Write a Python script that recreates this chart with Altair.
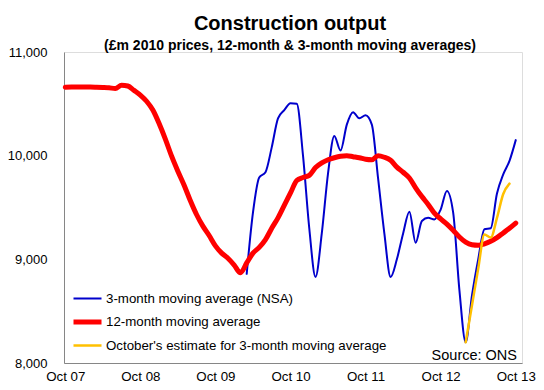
import json
import altair as alt
import pandas as pd

FONT = "Liberation Sans"

title_text = "Construction output"
subtitle_text = "(£m 2010 prices, 12-month & 3-month moving averages)"
source_text = "Source: ONS"

tick_months = [0, 12, 24, 36, 48, 60, 72]
tick_labels = ["Oct 07", "Oct 08", "Oct 09", "Oct 10", "Oct 11", "Oct 12", "Oct 13"]
y_ticks = [8000, 9000, 10000, 11000]

series_names = [
    "3-month moving average (NSA)",
    "12-month moving average",
    "October's estimate for 3-month moving average",
]
series_colors = ["#0000CC", "#FF0000", "#FFC000"]
series_widths = [2, 5, 2.5]

# 12-month moving average, monthly from Oct 07 (month 0)
ma12_start = 0
ma12 = [
    10660, 10662, 10663, 10663, 10662, 10660, 10658, 10655, 10648, 10680,
    10672, 10630, 10585, 10525, 10440, 10310, 10160, 9995, 9850, 9715,
    9565, 9430, 9320, 9230, 9130, 9060, 9010, 8945, 8870, 8965,
    9060, 9115, 9190, 9300, 9400, 9520, 9640, 9760, 9790, 9810,
    9885, 9930, 9960, 9980, 9995, 10000, 9990, 9980, 9965, 9960,
    10000, 9985, 9955, 9890, 9840, 9785, 9690, 9605, 9530, 9445,
    9390, 9340, 9280, 9215, 9165, 9140, 9135, 9150, 9175, 9210,
    9255, 9300, 9350,
]

# 3-month moving average (NSA), monthly from Mar 10 (month 29)
ma3_start = 29
ma3 = [
    8860, 9450, 9790, 9840, 10080, 10360, 10440, 10505, 10500, 10000,
    9300, 8830, 9250, 9830, 10190, 10050, 10300, 10420, 10360, 10390,
    10300, 9780, 9250, 8830, 9000, 9250, 9460, 9160, 9370, 9400,
    9385, 9480, 9660, 9450, 8700, 8200, 8650, 9000, 9290, 9300,
    9635, 9820, 9950, 10150,
]

# October's estimate for the 3-month moving average, from Feb 13 (month 64)
est_start = 64
est = [8200, 8555, 8910, 9240, 9210, 9400, 9630, 9730]

rows = []
for start, vals, name in [
    (ma3_start, ma3, series_names[0]),
    (ma12_start, ma12, series_names[1]),
    (est_start, est, series_names[2]),
]:
    for i, v in enumerate(vals):
        rows.append({"month": start + i, "value": v, "series": name})
df = pd.DataFrame(rows)

label_expr = json.dumps(tick_labels) + "[round(datum.value / 12)]"

x_enc = alt.X(
    "month:Q",
    scale=alt.Scale(domain=[-0.2, 73.0], nice=False, zero=False),
    axis=alt.Axis(
        values=tick_months, labelExpr=label_expr, title=None, grid=False,
        ticks=False, labelPadding=6, domainColor="#868686", labelFontSize=13.3,
        labelFont=FONT, labelColor="black", labelFlush=False, labelOverlap=False,
    ),
)
y_enc = alt.Y(
    "value:Q",
    scale=alt.Scale(domain=[8000, 11000], nice=False, zero=False),
    axis=alt.Axis(
        values=y_ticks, labelExpr="format(datum.value, ',.0f')", title=None,
        grid=False, ticks=False, labelPadding=17, domainColor="#868686",
        labelFontSize=13, labelFont=FONT, labelColor="black", labelFlush=False,
    ),
)
legend = alt.Legend(
    title=None, orient="none", legendX=7, legendY=236, symbolType="stroke",
    symbolSize=784, clipHeight=21, rowPadding=2.5, labelOffset=2,
    labelFontSize=13.3, labelFont=FONT, labelColor="black", padding=0,
    symbolOffset=0, labelLimit=400,
)
color_enc = alt.Color(
    "series:N", scale=alt.Scale(domain=series_names, range=series_colors),
    legend=legend,
)
width_enc = alt.StrokeWidth(
    "series:N",
    scale=alt.Scale(type="ordinal", domain=series_names, range=series_widths),
    legend=legend,
)

layers = []
for name in series_names:
    layers.append(
        alt.Chart(df)
        .transform_filter(alt.datum.series == name)
        .mark_line(interpolate="monotone", strokeJoin="round", strokeCap="round")
        .encode(x=x_enc, y=y_enc, color=color_enc, strokeWidth=width_enc)
    )

source = (
    alt.Chart(pd.DataFrame({"label": [source_text]}))
    .mark_text(align="right", baseline="alphabetic", fontSize=14.5, font=FONT, color="black")
    .encode(x=alt.value(453), y=alt.value(308), text="label:N")
)

chart = (
    alt.layer(*layers, source)
    .properties(
        width=458,
        height=311,
        autosize=alt.AutoSizeParams(type="none"),
        padding={"left": 56, "top": 44, "right": 14, "bottom": 19},
        title=alt.TitleParams(
            text=title_text, subtitle=subtitle_text, anchor="middle", frame="group",
            fontSize=20, fontWeight="bold", font=FONT, color="black",
            subtitleFontSize=14, subtitleFontWeight="bold", subtitleFont=FONT,
            subtitleColor="black", subtitlePadding=5, offset=-7, dx=-3,
        ),
    )
    .configure_view(stroke=None)
    .configure(background="white")
)

chart.save("out.html", embed_options={"renderer": "svg", "actions": False})
